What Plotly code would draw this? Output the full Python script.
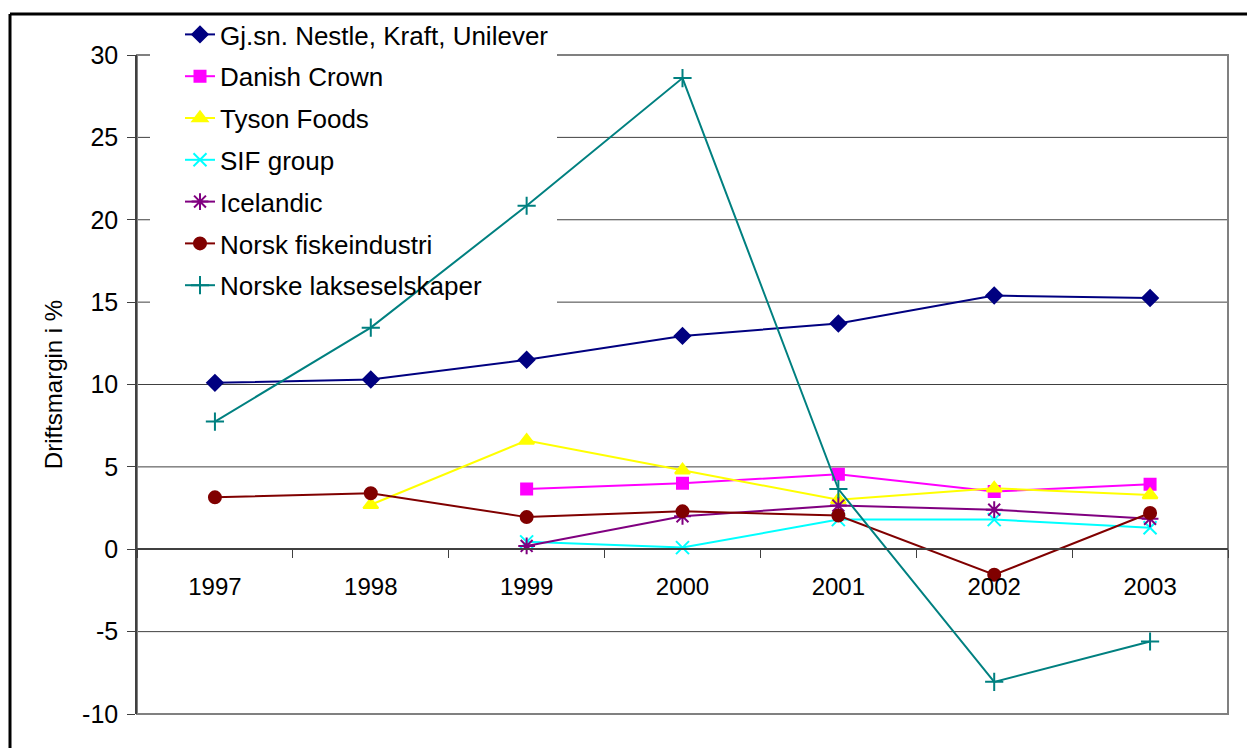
import plotly.graph_objects as go

years = ["1997", "1998", "1999", "2000", "2001", "2002", "2003"]
gjsn = [10.1, 10.3, 11.5, 12.95, 13.7, 15.4, 15.25]
danish_crown = [None, None, 3.65, 4.0, 4.55, 3.5, 3.95]
tyson = [None, 2.7, 6.6, 4.8, 3.0, 3.7, 3.3]
sif = [None, None, 0.45, 0.1, 1.8, 1.8, 1.3]
icelandic = [None, None, 0.2, 2.0, 2.65, 2.4, 1.85]
norsk_fisk = [3.15, 3.4, 1.95, 2.3, 2.05, -1.55, 2.2]
laks = [7.75, 13.45, 20.85, 28.6, 3.65, -8.05, -5.6]
y_ticks = [-10, -5, 0, 5, 10, 15, 20, 25, 30]
y_ticktext = ["-10", "-5", "0", "5", "10", "15", "20", "25", "30"]

series = [
    ("Gj.sn. Nestle, Kraft, Unilever", gjsn, "#000080", "diamond", 12),
    ("Danish Crown", danish_crown, "#FF00FF", "square", 11),
    ("Tyson Foods", tyson, "#FFFF00", "triangle-up", 13),
    ("SIF group", sif, "#00FFFF", "x-thin-open", 13),
    ("Icelandic", icelandic, "#800080", "asterisk-open", 14),
    ("Norsk fiskeindustri", norsk_fisk, "#800000", "circle", 12),
    ("Norske lakseselskaper", laks, "#008080", "cross-thin-open", 13),
]

fig = go.Figure()
for i, (name, vals, col, sym, sz) in enumerate(series):
    fig.add_trace(go.Scatter(
        x=years, y=vals, name=name, mode="lines+markers",
        line=dict(color=col, width=2),
        marker=dict(symbol=sym, size=sz, color=col, line=dict(color=col, width=2)),
        legendgroup=str(i), connectgaps=False,
    ))

FONT = "Liberation Sans, Arial, sans-serif"
OFF = 8  # page body margin
W, H = 1255 - OFF, 748 - OFF
# plot area in screenshot pixels
PL, PR, PT, PB = 137, 1228, 55, 714
L, R, T, B = PL - OFF, W - (PR - OFF), PT - OFF, H - (PB - OFF)
pw, ph = PR - PL, PB - PT

def px_x(p):
    return (p - PL) / pw

def px_y(p):
    return (PB - p) / ph

shapes = []
for v in y_ticks:
    shapes.append(dict(type="line", xref="x domain", yref="y", x0=0, x1=1, y0=v, y1=v,
                       line=dict(color="#404040", width=1), layer="below"))
shapes.append(dict(type="rect", xref="x domain", yref="y domain", x0=0, x1=1, y0=0, y1=1,
                   line=dict(color="#808080", width=2), layer="below"))
shapes.append(dict(type="rect", xref="x domain", yref="y domain",
                   x0=px_x(150), x1=px_x(557), y0=px_y(308), y1=px_y(50),
                   fillcolor="white", line=dict(width=0), layer="below"))
# outer chart-area border (top and left edges visible in the frame)
shapes.append(dict(type="line", xref="paper", yref="paper",
                   x0=px_x(10), x1=px_x(1262), y0=px_y(14), y1=px_y(14),
                   line=dict(color="black", width=3), layer="above"))
shapes.append(dict(type="line", xref="paper", yref="paper",
                   x0=px_x(10), x1=px_x(10), y0=px_y(14), y1=px_y(770),
                   line=dict(color="black", width=3), layer="above"))

fig.update_layout(
    width=W, height=H,
    margin=dict(l=L, r=R, t=T, b=B, autoexpand=False),
    paper_bgcolor="white", plot_bgcolor="white",
    font=dict(family=FONT, size=24, color="black"),
    showlegend=True,
    legend=dict(
        x=px_x(180), y=px_y(11), xanchor="left", yanchor="top",
        bgcolor="rgba(0,0,0,0)", borderwidth=0,
        font=dict(size=26, family=FONT),
        traceorder="grouped", tracegroupgap=5,
        itemwidth=30,
    ),
    xaxis=dict(
        type="category", categoryorder="array", categoryarray=years,
        tickson="boundaries", ticks="outside", ticklen=8, tickcolor="#404040",
        showgrid=False, showline=True, linecolor="#404040", linewidth=1.5,
        anchor="free", position=0.25, zeroline=False,
        tickfont=dict(size=24, family=FONT), ticklabelstandoff=16,
        range=[-0.5, 6.5],
    ),
    yaxis=dict(
        range=[-10, 30], tickvals=y_ticks, ticktext=y_ticktext,
        ticks="outside", ticklen=8, tickcolor="#404040",
        showgrid=False,
        showline=True, linecolor="#404040", linewidth=1.5,
        zeroline=False, tickfont=dict(size=25, family=FONT),
        ticklabelstandoff=4,
        title=dict(text="Driftsmargin i %", font=dict(size=24, family=FONT), standoff=13),
    ),
    shapes=shapes,
)

fig.write_html("out.html")
